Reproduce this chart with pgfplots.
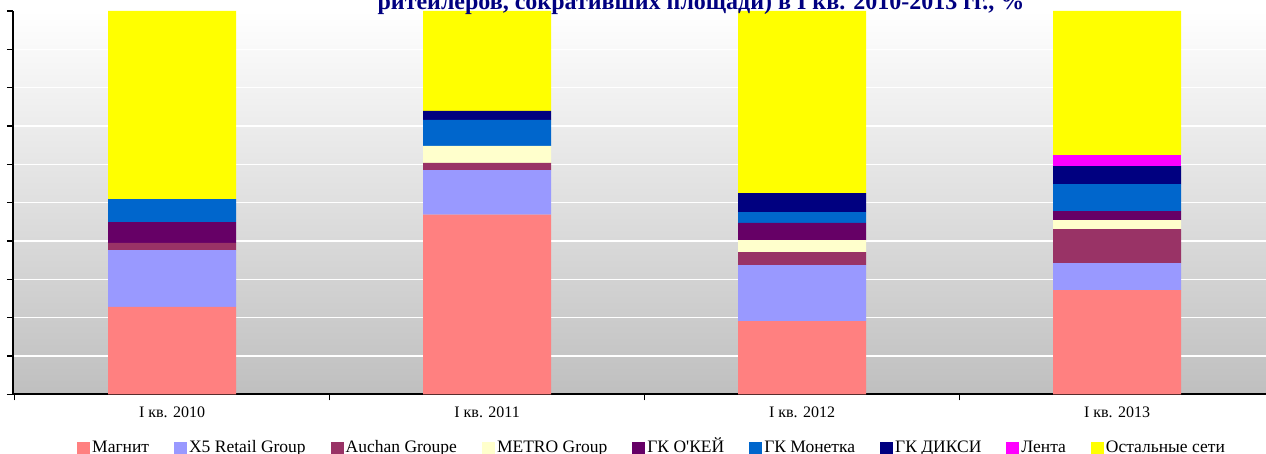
\documentclass[border=0pt]{standalone}
\usepackage{pgfplots}
\pgfplotsset{compat=1.18}
\usepackage{fontspec}
\setmainfont{Liberation Serif}
\definecolor{cMagnit}{HTML}{FF8080}
\definecolor{cXfive}{HTML}{9999FF}
\definecolor{cAuchan}{HTML}{993366}
\definecolor{cMetro}{HTML}{FFFFCC}
\definecolor{cOkey}{HTML}{660066}
\definecolor{cMonetka}{HTML}{0066CC}
\definecolor{cDixy}{HTML}{000080}
\definecolor{cLenta}{HTML}{FF00FF}
\definecolor{cRest}{HTML}{FFFF00}
\definecolor{cTitle}{HTML}{000080}
\pgfplotsset{sq/.style={legend image code/.code={\fill[##1] (0pt,-6.5pt) rectangle (13pt,6.5pt);}}}
\begin{document}
\begin{tikzpicture}
\begin{axis}[
  scale only axis, width=1253pt, height=383.3pt,
  xmin=-0.505, xmax=3.473, ymin=0, ymax=100,
  ybar stacked, bar width=128pt,
  axis x line*=bottom, axis y line*=left,
  x axis line style={-}, y axis line style={-},
  axis line style={black, line width=1.6pt},
  ytick={0,10,...,100}, yticklabels={},
  xtick={0,1,2,3},
  xticklabels={I кв. 2010, I кв. 2011, I кв. 2012, I кв. 2013},
  minor xtick={-0.5,0.5,1.5,2.5},
  tick align=outside, major tick length=6pt, minor tick length=6pt,
  tick style={black, line width=1.3pt},
  major x tick style={draw=none},
  ymajorgrids, major grid style={white, line width=1.5pt},
  axis background/.style={shade, top color=white, bottom color=black!25},
  xticklabel style={font=\fontsize{16}{18}\selectfont, yshift=-3pt},
  legend columns=-1,
  legend style={at={(0.51,0)}, anchor=center, yshift=-54pt, draw=none, fill=none,
    font=\fontsize{17.5}{20}\selectfont,
    nodes={text height=12pt, text depth=4pt},
    /tikz/every even column/.append style={column sep=23pt}},
]
\addplot[fill=cMagnit, draw=none, sq] coordinates {(0,22.8) (1,46.9) (2,19.1) (3,27.2)};
\addplot[fill=cXfive, draw=none, sq] coordinates {(0,14.8) (1,11.6) (2,14.6) (3,7.05)};
\addplot[fill=cAuchan, draw=none, sq] coordinates {(0,1.9) (1,1.85) (2,3.4) (3,8.85)};
\addplot[fill=cMetro, draw=none, sq] coordinates {(0,0) (1,4.45) (2,3.15) (3,2.35)};
\addplot[fill=cOkey, draw=none, sq] coordinates {(0,5.45) (1,0) (2,4.45) (3,2.35)};
\addplot[fill=cMonetka, draw=none, sq] coordinates {(0,6.0) (1,6.8) (2,2.85) (3,7.05)};
\addplot[fill=cDixy, draw=none, sq] coordinates {(0,0) (1,2.35) (2,4.95) (3,4.7)};
\addplot[fill=cLenta, draw=none, sq] coordinates {(0,0) (1,0) (2,0) (3,2.85)};
\addplot[fill=cRest, draw=none, sq] coordinates {(0,49.05) (1,26.05) (2,47.5) (3,37.6)};
\legend{Магнит, X5 Retail Group, Auchan Groupe, METRO Group, ГК О\textquotesingle КЕЙ, ГК Монетка, ГК ДИКСИ, Лента, Остальные сети}
\end{axis}
\node[font=\bfseries\fontsize{24}{28}\selectfont, text=cTitle, anchor=base] at (688pt,384.3pt) {ритейлеров, сокративших площади) в I кв. 2010-2013 гг., \%};
\pgfresetboundingbox
\path (-13pt,-59.7pt) rectangle (1253pt,394.3pt);
\end{tikzpicture}
\end{document}
